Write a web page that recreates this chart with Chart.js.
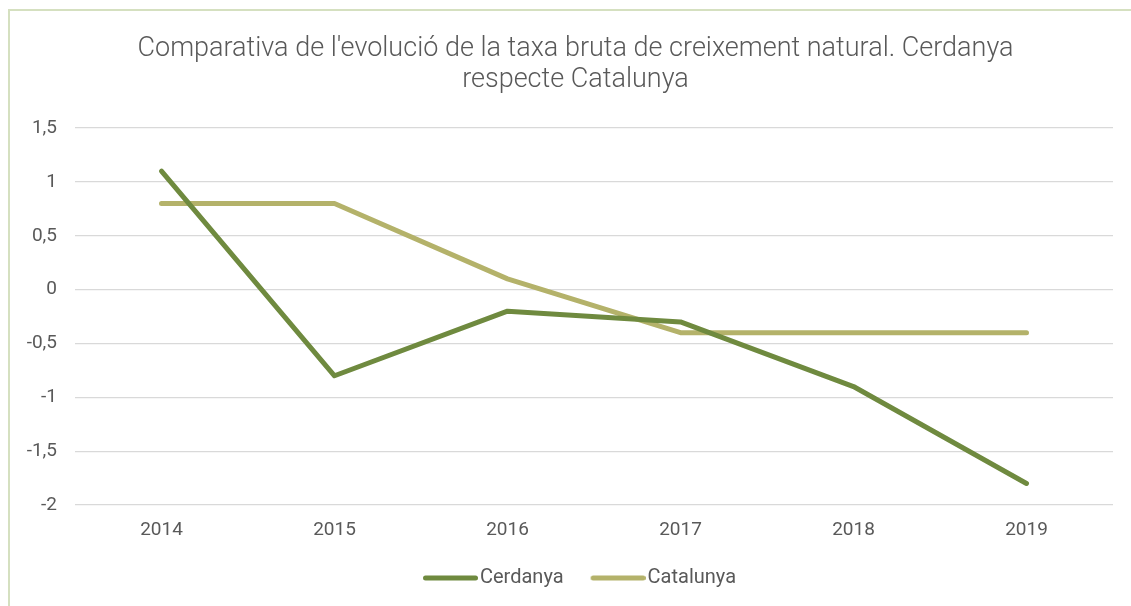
<!DOCTYPE html>
<html>
<head>
<meta charset="utf-8">
<script src="https://cdn.jsdelivr.net/npm/chart.js@4.4.1/dist/chart.umd.min.js"></script>
<style>
  html, body { margin: 0; padding: 0; background: #ffffff; overflow: hidden; }
  #wrap { width: 1131px; height: 606px; overflow: hidden; }
</style>
</head>
<body>
<div id="wrap"><canvas id="myChart" width="1151" height="606"></canvas></div>
<script>
var years = ["2014", "2015", "2016", "2017", "2018", "2019"];
var cerdanya = [1.1, -0.8, -0.2, -0.3, -0.9, -1.8];
var catalunya = [0.8, 0.8, 0.1, -0.4, -0.4, -0.4];
var yTicks = [-2, -1.5, -1, -0.5, 0, 0.5, 1, 1.5];

var textColor = "#595959";
var colCerdanya = "#6f8a3f";
var colCatalunya = "#b4b26a";

// legend marker: a short thick line that sits close to its label
function legendLine(color) {
  var c = document.createElement("canvas");
  c.width = 71;
  c.height = 8;
  var g = c.getContext("2d");
  g.strokeStyle = color;
  g.lineWidth = 5;
  g.lineCap = "round";
  g.beginPath();
  g.moveTo(18.5, 4);
  g.lineTo(68.5, 4);
  g.stroke();
  return c;
}

// thin green frame, as in the original spreadsheet export
var framePlugin = {
  id: "frame",
  beforeDraw: function (chart) {
    var c = chart.ctx;
    c.save();
    c.strokeStyle = "#d5e0c0";
    c.lineWidth = 2;
    c.beginPath();
    c.moveTo(9, chart.height);
    c.lineTo(9, 10);
    c.lineTo(chart.width, 10);
    c.stroke();
    c.restore();
  },
};

var ctx = document.getElementById("myChart").getContext("2d");
var myChart = new Chart(ctx, {
  type: "line",
  plugins: [framePlugin],
  data: {
    labels: years,
    datasets: [
      {
        label: "Cerdanya",
        data: cerdanya,
        borderColor: colCerdanya,
        backgroundColor: colCerdanya,
        borderWidth: 5,
        borderCapStyle: "round",
        borderJoinStyle: "round",
        pointRadius: 0,
        pointStyle: legendLine(colCerdanya),
        tension: 0,
      },
      {
        label: "Catalunya",
        data: catalunya,
        borderColor: colCatalunya,
        backgroundColor: colCatalunya,
        borderWidth: 5,
        borderCapStyle: "round",
        borderJoinStyle: "round",
        pointRadius: 0,
        pointStyle: legendLine(colCatalunya),
        tension: 0,
      },
    ],
  },
  options: {
    responsive: false,
    animation: false,
    layout: {
      padding: { left: 0, right: 0, top: 0, bottom: 8 },
    },
    scales: {
      x: {
        offset: true,
        grid: { display: false, drawTicks: false },
        border: { display: false },
        ticks: {
          padding: 14,
          color: textColor,
          font: { family: "Roboto", size: 19 },
        },
        afterFit: function (scale) {
          scale.height = 44;
        },
      },
      y: {
        min: -2,
        max: 1.5,
        afterBuildTicks: function (scale) {
          scale.ticks = yTicks.map(function (v) { return { value: v }; });
        },
        grid: { color: "#d9d9d9", lineWidth: 1.3, drawTicks: false },
        border: { display: false },
        ticks: {
          padding: 18,
          color: textColor,
          font: { family: "Roboto", size: 19 },
          callback: function (v) {
            return String(v).replace(".", ",");
          },
        },
        afterFit: function (scale) {
          scale.width = 75;
        },
      },
      // empty axis on the right, only keeps the plot clear of the frame edge
      yRight: {
        type: "linear",
        position: "right",
        grid: { display: false, drawTicks: false },
        border: { display: false },
        ticks: { display: false },
        afterFit: function (scale) {
          scale.width = 38;
        },
      },
    },
    plugins: {
      title: {
        display: true,
        text: [
          "Comparativa de l'evolució de la taxa bruta de creixement natural. Cerdanya",
          "respecte Catalunya",
        ],
        color: textColor,
        font: { family: "Roboto", size: 27, weight: "300", lineHeight: 1.15 },
        padding: { top: 34, bottom: 32 },
      },
      legend: {
        position: "bottom",
        labels: {
          usePointStyle: true,
          pointStyleWidth: 55,
          padding: 19,
          color: textColor,
          font: { family: "Roboto", size: 20 },
        },
      },
      tooltip: { enabled: false },
    },
  },
});
</script>
</body>
</html>
